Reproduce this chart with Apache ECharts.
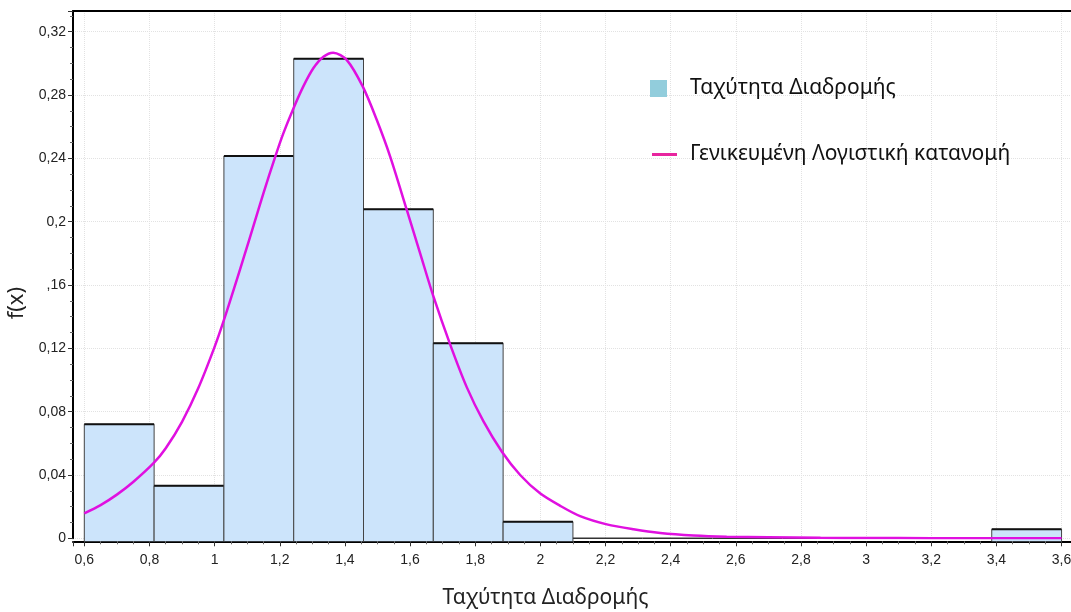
<!DOCTYPE html>
<html>
<head>
<meta charset="utf-8">
<script src="https://cdn.jsdelivr.net/npm/echarts@6/dist/echarts.min.js"></script>
<style>
  html, body { margin: 0; padding: 0; background: #ffffff; }
  #chart { width: 1071px; height: 612px; }
</style>
</head>
<body>
<div id="chart"></div>
<script>
// Histogram of travel speed (density per bin) and fitted generalized logistic pdf
const histName = 'Ταχύτητα Διαδρομής';
const fitName = 'Γενικευμένη Λογιστική κατανομή';
const xTitle = 'Ταχύτητα Διαδρομής';
const yTitle = 'f(x)';

const binEdges = [0.6, 0.8143, 1.0286, 1.2429, 1.4571, 1.6714, 1.8857, 2.1,
                  2.3143, 2.5286, 2.7429, 2.9571, 3.1714, 3.3857, 3.6];
const binDensity = [0.0720, 0.0332, 0.2415, 0.3030, 0.2078, 0.1232, 0.0105,
                    0, 0, 0, 0, 0, 0, 0.0057];

const pdfX = [0.600, 0.650, 0.700, 0.750, 0.814, 0.850, 0.900, 0.950, 1.000, 1.029,
              1.060, 1.090, 1.120, 1.150, 1.186, 1.211, 1.240, 1.272, 1.303, 1.334,
              1.364, 1.406, 1.455, 1.498, 1.539, 1.590, 1.631, 1.672, 1.723, 1.774,
              1.825, 1.882, 1.938, 1.999, 2.061, 2.122, 2.204, 2.286, 2.368, 2.470,
              2.572, 2.700, 2.860, 3.000, 3.200, 3.400, 3.600];
const pdfY = [0.0158, 0.0210, 0.0276, 0.0356, 0.0478, 0.0569, 0.0736, 0.0949, 0.1209, 0.1381,
              0.1580, 0.1778, 0.1978, 0.2180, 0.2410, 0.2558, 0.2706, 0.2853, 0.2969, 0.3042,
              0.3068, 0.3021, 0.2853, 0.2642, 0.2411, 0.2074, 0.1800, 0.1526, 0.1225, 0.0955,
              0.0740, 0.0547, 0.0400, 0.0284, 0.0205, 0.0140, 0.0088, 0.0057, 0.0034, 0.0018,
              0.0010, 0.0006, 0.0003, 0.0002, 0.0001, 0.0000, 0.0000];

const histData = binDensity.map((v, i) => [binEdges[i], binEdges[i + 1], v]);
const pdfData = pdfX.map((x, i) => [x, pdfY[i]]);

const X_MIN = 0.5653, X_MAX = 3.629;
const Y_MAX = 0.3331;
const comma = (v) => String(+v.toFixed(4)).replace('.', ',');
const labelFont = 'Liberation Sans, Arial, sans-serif';
const textFont = 'Noto Sans, DejaVu Sans, sans-serif';

const chart = echarts.init(document.getElementById('chart'), null, { renderer: 'canvas' });

chart.setOption({
  animation: false,
  backgroundColor: '#ffffff',
  grid: { left: 73, right: 0, top: 11, bottom: 73.7, containLabel: false, outerBoundsMode: 'none' },
  legend: [
    {
      left: 645, top: 73, orient: 'vertical', selectedMode: false,
      itemWidth: 17, itemHeight: 17,
      textStyle: { fontFamily: textFont, fontSize: 21, color: '#111', padding: [0, 0, 0, 18] },
      data: [{ name: histName, icon: 'rect', itemStyle: { color: '#92CDDC', borderWidth: 0 } }]
    },
    {
      left: 647, top: 139, orient: 'vertical', selectedMode: false,
      itemWidth: 25, itemHeight: 3,
      textStyle: { fontFamily: textFont, fontSize: 21, color: '#111', padding: [0, 0, 0, 8] },
      data: [{ name: fitName, icon: 'rect', itemStyle: { color: '#E8259F', borderWidth: 0 } }]
    }
  ],
  xAxis: [
    {
      type: 'value', min: X_MIN, max: X_MAX, splitNumber: 15, offset: 3,
      name: xTitle, nameLocation: 'middle', nameGap: 46,
      nameTextStyle: { fontFamily: textFont, fontSize: 21, color: '#222', padding: [0, 53, 0, 0] },
      axisLine: { show: true, onZero: false, lineStyle: { color: '#000', width: 2 } },
      axisTick: { show: true, length: 5, lineStyle: { color: '#333' } },
      minorTick: { show: true, splitNumber: 4, length: 3, lineStyle: { color: '#666' } },
      axisLabel: { margin: 12, fontFamily: labelFont, fontSize: 14, color: '#222',
                   showMinLabel: false, showMaxLabel: false, formatter: comma },
      splitLine: { show: true, lineStyle: { color: '#e2e2e2', type: 'dotted', width: 1 } }
    },
    {
      type: 'value', position: 'top', min: X_MIN, max: X_MAX,
      axisLine: { show: true, onZero: false, lineStyle: { color: '#000', width: 2 } },
      axisTick: { show: false }, axisLabel: { show: false }, splitLine: { show: false }
    }
  ],
  yAxis: {
    type: 'value', min: 0, max: Y_MAX, interval: 0.04,
    name: yTitle, nameLocation: 'middle', nameGap: 33, nameRotate: 90,
    nameTextStyle: { fontFamily: textFont, fontSize: 22, color: '#222', padding: [0, 57, 0, 0] },
    axisLine: { show: true, lineStyle: { color: '#000', width: 2 } },
    axisTick: { show: true, length: 5, lineStyle: { color: '#333' } },
    minorTick: { show: true, splitNumber: 4, length: 3, lineStyle: { color: '#666' } },
    axisLabel: { margin: 7, fontFamily: labelFont, fontSize: 14, color: '#222', showMaxLabel: false,
                 formatter: (v) => (Math.abs(v - 0.16) < 1e-6 ? ',16' : comma(v)) },
    splitLine: { show: true, lineStyle: { color: '#e2e2e2', type: 'dotted', width: 1 } }
  },
  series: [
    {
      name: histName, type: 'custom', xAxisIndex: 0, z: 2,
      encode: { x: [0, 1], y: 2 },
      data: histData,
      renderItem: function (params, api) {
        const x0 = api.value(0), x1 = api.value(1), v = api.value(2);
        const pTop = api.coord([x0, v]);
        const pEnd = api.coord([x1, 0]);
        const base = pEnd[1];
        if (v <= 0) {
          return { type: 'line', shape: { x1: pTop[0], y1: base, x2: pEnd[0], y2: base },
                   style: { stroke: '#333', lineWidth: 1.5 } };
        }
        const bottom = base + 3;
        return {
          type: 'group',
          children: [
            { type: 'rect', shape: { x: pTop[0], y: pTop[1], width: pEnd[0] - pTop[0], height: bottom - pTop[1] },
              style: { fill: '#CCE4FB' } },
            { type: 'polyline', shape: { points: [[pTop[0], bottom], [pTop[0], pTop[1]], [pEnd[0], pTop[1]], [pEnd[0], bottom]] },
              style: { stroke: '#444', lineWidth: 1, fill: null } },
            { type: 'line', shape: { x1: pTop[0], y1: pTop[1], x2: pEnd[0], y2: pTop[1] },
              style: { stroke: '#111', lineWidth: 2 } }
          ]
        };
      }
    },
    {
      name: fitName, type: 'line', xAxisIndex: 0, z: 3,
      data: pdfData, smooth: 0.3, showSymbol: false, symbol: 'none',
      lineStyle: { color: '#E010E0', width: 2.5 },
      itemStyle: { color: '#E010E0' }
    }
  ]
});
</script>
</body>
</html>
